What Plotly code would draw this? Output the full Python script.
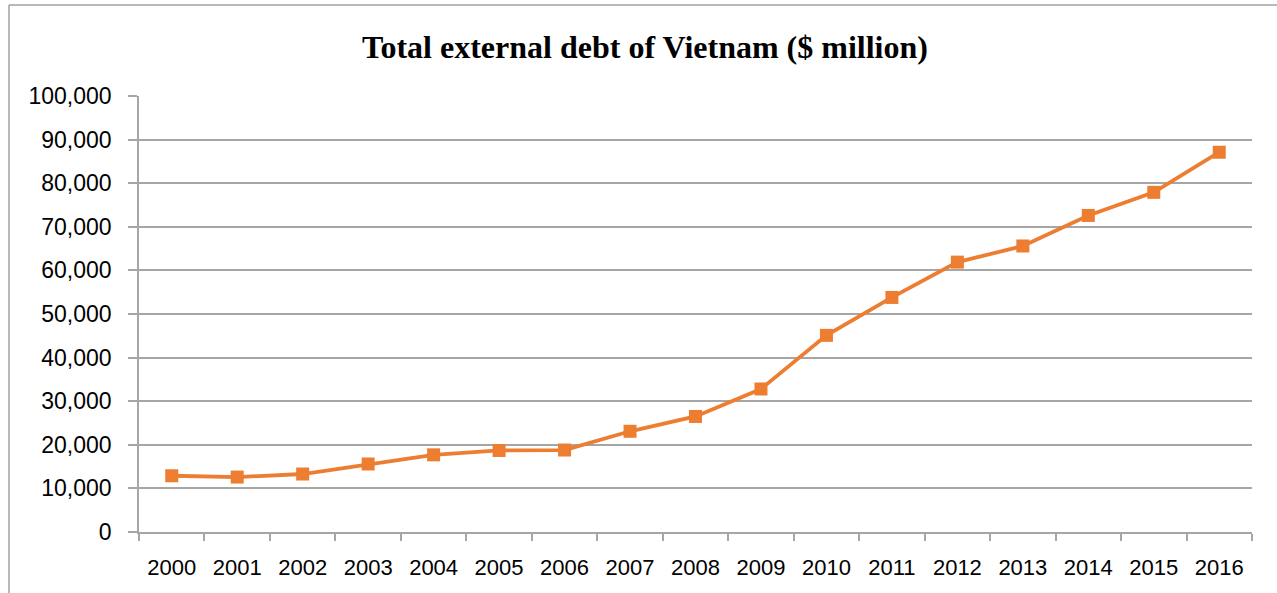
import plotly.graph_objects as go

# Total external debt of Vietnam, $ million
years = ["2000", "2001", "2002", "2003", "2004", "2005", "2006", "2007", "2008",
         "2009", "2010", "2011", "2012", "2013", "2014", "2015", "2016"]
debt = [12900, 12600, 13300, 15600, 17700, 18700, 18800, 23100, 26500,
        32800, 45100, 53800, 61900, 65600, 72600, 77900, 87100]
y_ticks = [0, 10000, 20000, 30000, 40000, 50000, 60000, 70000, 80000, 90000, 100000]
y_tick_text = ["0", "10,000", "20,000", "30,000", "40,000", "50,000", "60,000",
               "70,000", "80,000", "90,000", "100,000"]

ORANGE = "#ED7D31"
GRID = "#a6a6a6"

fig = go.Figure(
    go.Scatter(
        x=years,
        y=debt,
        mode="lines+markers",
        line=dict(color=ORANGE, width=3.8),
        marker=dict(symbol="square", size=13, color=ORANGE),
        hoverinfo="x+y",
    )
)

fig.update_layout(
    width=1277,
    height=593,
    margin=dict(l=139, r=25, t=96, b=61),
    paper_bgcolor="white",
    plot_bgcolor="white",
    showlegend=False,
    title=dict(
        text="<b>Total external debt of Vietnam ($ million)</b>",
        font=dict(family="Liberation Serif", size=32, color="black"),
        x=0.4546, xref="paper", xanchor="center",
        y=0.921, yref="container", yanchor="middle",
    ),
    font=dict(family="Liberation Sans", size=22, color="black"),
)

fig.update_xaxes(
    type="category",
    range=[-0.5, len(years) - 0.5],
    tickson="boundaries",
    ticks="outside",
    ticklen=7,
    tickcolor=GRID,
    tickwidth=1.5,
    showline=True,
    linecolor=GRID,
    linewidth=1.5,
    showgrid=False,
    ticklabelstandoff=15,
    tickfont=dict(family="Liberation Sans", size=22),
)

fig.update_yaxes(
    range=[0, 100000],
    tickvals=y_ticks,
    ticktext=y_tick_text,
    ticks="outside",
    ticklen=9,
    tickcolor=GRID,
    tickwidth=1.5,
    showline=True,
    linecolor=GRID,
    linewidth=1.5,
    showgrid=True,
    gridcolor=GRID,
    gridwidth=1.5,
    zeroline=False,
    ticklabelstandoff=12,
    tickfont=dict(family="Liberation Sans", size=23),
)

# chart frame (left and top edges)
frame = dict(color="#a0a0a0", width=1.5)
fig.add_shape(type="line", xref="paper", yref="paper",
              x0=-0.1168, x1=-0.1168, y0=1.2087, y1=-0.2, line=frame)
fig.add_shape(type="line", xref="paper", yref="paper",
              x0=-0.1168, x1=1.05, y0=1.2087, y1=1.2087, line=frame)

fig.write_html("out.html")
